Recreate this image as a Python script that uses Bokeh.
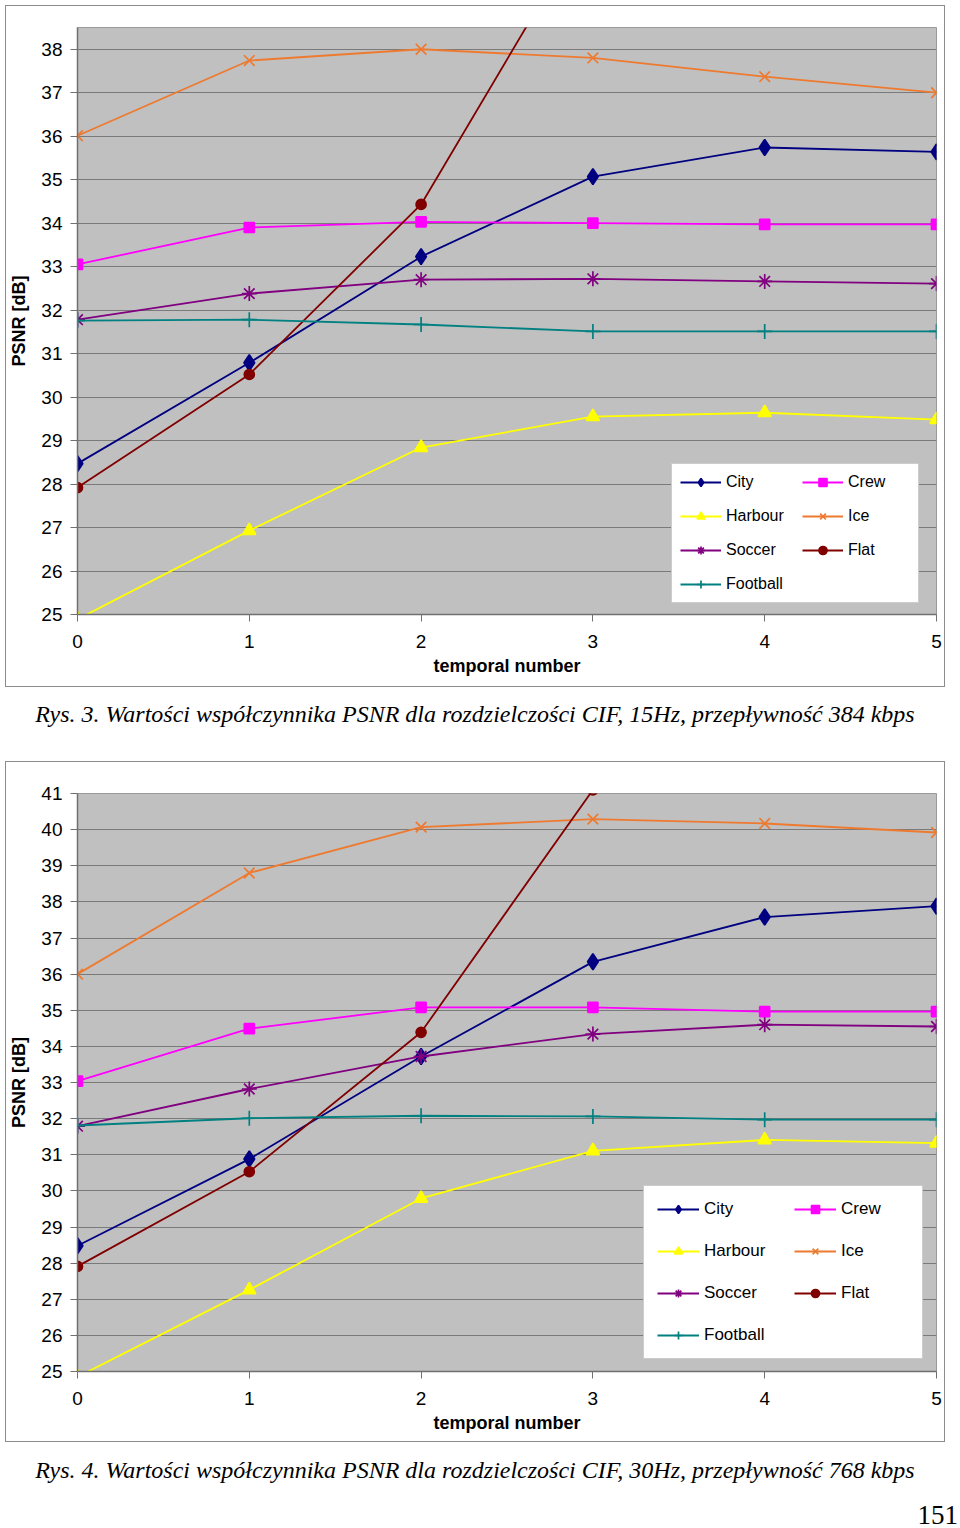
import math
from bokeh.plotting import figure
from bokeh.models import (Range1d, FixedTicker, Legend, LegendItem, Div,
                          InlineStyleSheet)
from bokeh.layouts import column
from bokeh.embed import file_html
from bokeh.resources import INLINE

nan = float("nan")

x_vals = [0, 1, 2, 3, 4, 5]
x_ticks = [0, 1, 2, 3, 4, 5]

# ---- Rys. 3 : CIF, 15Hz, 384 kbps ----
city_1 = [28.47, 30.79, 33.23, 35.07, 35.74, 35.64]
crew_1 = [33.05, 33.90, 34.03, 34.00, 33.97, 33.97]
harbour_1 = [24.89, 26.93, 28.84, 29.55, 29.64, 29.48]
ice_1 = [36.01, 37.74, 38.00, 37.80, 37.37, 37.00]
soccer_1 = [31.78, 32.38, 32.70, 32.72, 32.66, 32.61]
flat_1 = [27.92, 30.52, 34.43, 41.10, nan, nan]
football_1 = [31.76, 31.78, 31.67, 31.51, 31.51, 31.51]
y_ticks_1 = list(range(25, 39))

# ---- Rys. 4 : CIF, 30Hz, 768 kbps ----
city_2 = [28.48, 30.88, 33.72, 36.34, 37.58, 37.88]
crew_2 = [33.04, 34.49, 35.08, 35.08, 34.96, 34.96]
harbour_2 = [24.85, 27.26, 29.79, 31.11, 31.41, 31.32]
ice_2 = [36.00, 38.80, 40.07, 40.29, 40.17, 39.92]
soccer_2 = [31.79, 32.82, 33.72, 34.34, 34.60, 34.55]
flat_2 = [27.91, 30.53, 34.39, 41.10, nan, nan]
football_2 = [31.81, 32.01, 32.08, 32.06, 31.97, 31.97]
y_ticks_2 = list(range(25, 42))

caption_1 = "Rys. 3. Wartości współczynnika PSNR dla rozdzielczości CIF, 15Hz, przepływność 384 kbps"
caption_2 = "Rys. 4. Wartości współczynnika PSNR dla rozdzielczości CIF, 30Hz, przepływność 768 kbps"
page_number = "151"

STYLE = {
    "City": ("#000080", "diamond", 16),
    "Crew": ("#FF00FF", "square", 10),
    "Harbour": ("#FFFF00", "triangle", 13),
    "Ice": ("#EE7A30", "x", 15),
    "Soccer": ("#800080", "asterisk", 15),
    "Flat": ("#800000", "circle", 10),
    "Football": ("#008080", "cross", 15),
}
# legend order (column-major, 4 rows): City, Harbour, Soccer, Football | Crew, Ice, Flat
LEGEND_ORDER = ["City", "Harbour", "Soccer", "Football", "Crew", "Ice", "Flat"]

SANS = "Liberation Sans"
SERIF = "Liberation Serif"

box_css = InlineStyleSheet(css=":host { outline: 1px solid #8C8C8C; outline-offset: 0px; }")


def make_chart(series, y_max, y_ticks, top_border, frame_h, bottom_border,
               leg_loc, leg_cfg, margin):
    p = figure(
        output_backend="svg", toolbar_location=None,
        frame_width=859, frame_height=frame_h,
        min_border_left=71, min_border_right=8,
        min_border_top=top_border, min_border_bottom=bottom_border,
        x_range=Range1d(0, 5), y_range=Range1d(25, y_max),
        background_fill_color="#C0C0C0", border_fill_color="white",
        margin=margin, stylesheets=[box_css],
    )
    p.outline_line_color = "#9A9A9A"
    p.outline_line_width = 1
    p.xgrid.grid_line_color = None
    p.ygrid.grid_line_color = "#7A7A7A"
    p.ygrid.grid_line_width = 1

    p.xaxis.ticker = FixedTicker(ticks=x_ticks)
    p.yaxis.ticker = FixedTicker(ticks=y_ticks)
    for ax in (p.xaxis, p.yaxis):
        ax.axis_line_color = "#707070"
        ax.axis_line_width = 1.5
        ax.major_tick_line_color = "#707070"
        ax.major_tick_in = 0
        ax.major_tick_out = 7
        ax.minor_tick_line_color = None
        ax.major_label_text_font = SANS
        ax.major_label_text_font_size = "19px"
        ax.major_label_text_color = "black"
        ax.axis_label_text_font = SANS
        ax.axis_label_text_font_style = "bold"
        ax.axis_label_text_font_size = "18px"
        ax.axis_label_text_color = "black"
    p.xaxis.axis_label = "temporal number"
    p.yaxis.axis_label = "PSNR [dB]"
    p.xaxis.major_label_standoff = 13
    p.yaxis.major_label_standoff = 8
    p.xaxis.axis_label_standoff = 5
    p.yaxis.axis_label_standoff = 9

    items = {}
    for name, ys in series.items():
        color, marker, size = STYLE[name]
        lr = p.line(x_vals, ys, line_color=color, line_width=1.8)
        sr = p.scatter(x_vals, ys, marker=marker, size=size,
                       fill_color=color, line_color=color, line_width=1.7)
        items[name] = LegendItem(label=name, renderers=[lr, sr])

    legend = Legend(items=[items[n] for n in LEGEND_ORDER], location=leg_loc,
                    nrows=4, margin=0)
    legend.label_text_font = SANS
    legend.label_text_font_size = leg_cfg["font"]
    legend.label_text_color = "black"
    legend.glyph_width = leg_cfg["glyph_w"]
    legend.glyph_height = 20
    legend.label_height = 20
    legend.label_width = leg_cfg["label_w"]
    legend.label_standoff = 5
    legend.spacing = leg_cfg["spacing"]
    legend.padding = leg_cfg["padding"]
    legend.border_line_color = "#9A9A9A"
    legend.border_line_width = 1
    legend.background_fill_color = "white"
    legend.background_fill_alpha = 1.0
    p.add_layout(legend, "center")
    return p


series_1 = {"City": city_1, "Crew": crew_1, "Harbour": harbour_1, "Ice": ice_1,
            "Soccer": soccer_1, "Flat": flat_1, "Football": football_1}
series_2 = {"City": city_2, "Crew": crew_2, "Harbour": harbour_2, "Ice": ice_2,
            "Soccer": soccer_2, "Flat": flat_2, "Football": football_2}

p1 = make_chart(series_1, 38.5, y_ticks_1, 21, 587, 72, (594, 11),
                {"font": "16px", "glyph_w": 41, "label_w": 62, "spacing": 14, "padding": 8},
                (6, 16, 0, 6))
p2 = make_chart(series_2, 41, y_ticks_2, 31, 578, 70, (566, 12),
                {"font": "17px", "glyph_w": 42, "label_w": 68, "spacing": 22, "padding": 13},
                (0, 16, 0, 6))

cap_style = ("font-family:'Liberation Serif';font-style:italic;font-size:24px;"
             "line-height:28px;text-align:center;width:950px;color:black;white-space:nowrap;")
cap1 = Div(text=f'<div style="{cap_style}padding-top:14px;">{caption_1}</div>',
           width=960, height=76, margin=0)
cap2 = Div(text=(f'<div style="{cap_style}padding-top:15px;">{caption_2}</div>'
                 f'<div style="font-family:\'Liberation Serif\';font-size:27px;line-height:30px;'
                 f'text-align:right;width:958px;margin-top:16px;color:black;">{page_number}</div>'),
           width=960, height=87, margin=0)

layout = column(p1, cap1, p2, cap2, spacing=0)
open("out.html", "w").write(file_html(layout, INLINE))
